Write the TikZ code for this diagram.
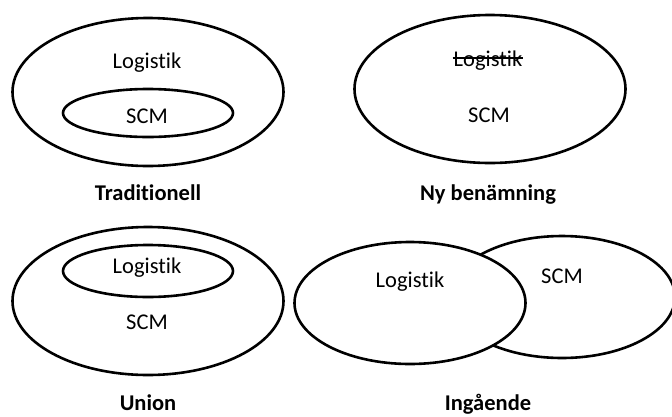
\documentclass[tikz,border=0pt]{standalone}
\usepackage{fontspec}
\setmainfont{Carlito}[Ligatures=NoCommon]
\usetikzlibrary{positioning, shapes.geometric}

\begin{document}
\begin{tikzpicture}[
            x=1pt, y=-1pt,
            set/.style={ellipse, draw=black, line width=2.6pt, inner sep=0pt},
            big/.style={set, minimum width=271pt, minimum height=148pt},
            small/.style={set, minimum width=170pt, minimum height=48pt},
            word/.style={anchor=base, inner sep=1pt, font=\fontsize{22.5}{27}\selectfont},
            title/.style={anchor=base, inner sep=1pt, font=\fontsize{22.5}{27}\selectfont\bfseries},
        ]
            \clip (0,0) rectangle (672,416);
            \fill[white] (0,0) rectangle (672,416);

            % Traditionell: SCM inside Logistik
            \node[big] (T-out) at (148,92) {};
            \node[small] (T-in) at (148,113) {};
            \node[word] (T-log) at (147,68) {Logistik};
            \node[word] (T-scm) at (147,123) {SCM};
            \node[title] (T-name) at (148,200) {Traditionell};

            % Ny benämning: one set, old name struck out
            \node[big] (N-out) at (490,89) {};
            \node[word] (N-log) at (488,66) {Logistik};
            \node[word] (N-scm) at (489,122) {SCM};
            \node[title] (N-name) at (488,200) {Ny benämning};
            \draw[line width=1.8pt] ([yshift=8pt]N-log.base west) -- ([yshift=8pt]N-log.base east);

            % Union: Logistik inside SCM
            \node[big] (U-out) at (148,301) {};
            \node[small, minimum height=52pt] (U-in) at (148,271) {};
            \node[word] (U-log) at (147,273) {Logistik};
            \node[word] (U-scm) at (147,329) {SCM};
            \node[title] (U-name) at (148,410) {Union};

            % Ingående: overlapping sets, Logistik on top
            \node[set, minimum width=226pt, minimum height=122pt] (I-scm) at (562,297) {};
            \node[set, fill=white, minimum width=231pt, minimum height=122pt] (I-log) at (410,303) {};
            \node[word] (I-logt) at (410,287) {Logistik};
            \node[word] (I-scmt) at (562,283) {SCM};
            \node[title] (I-name) at (488,410) {Ingående};
        \end{tikzpicture}
\end{document}
